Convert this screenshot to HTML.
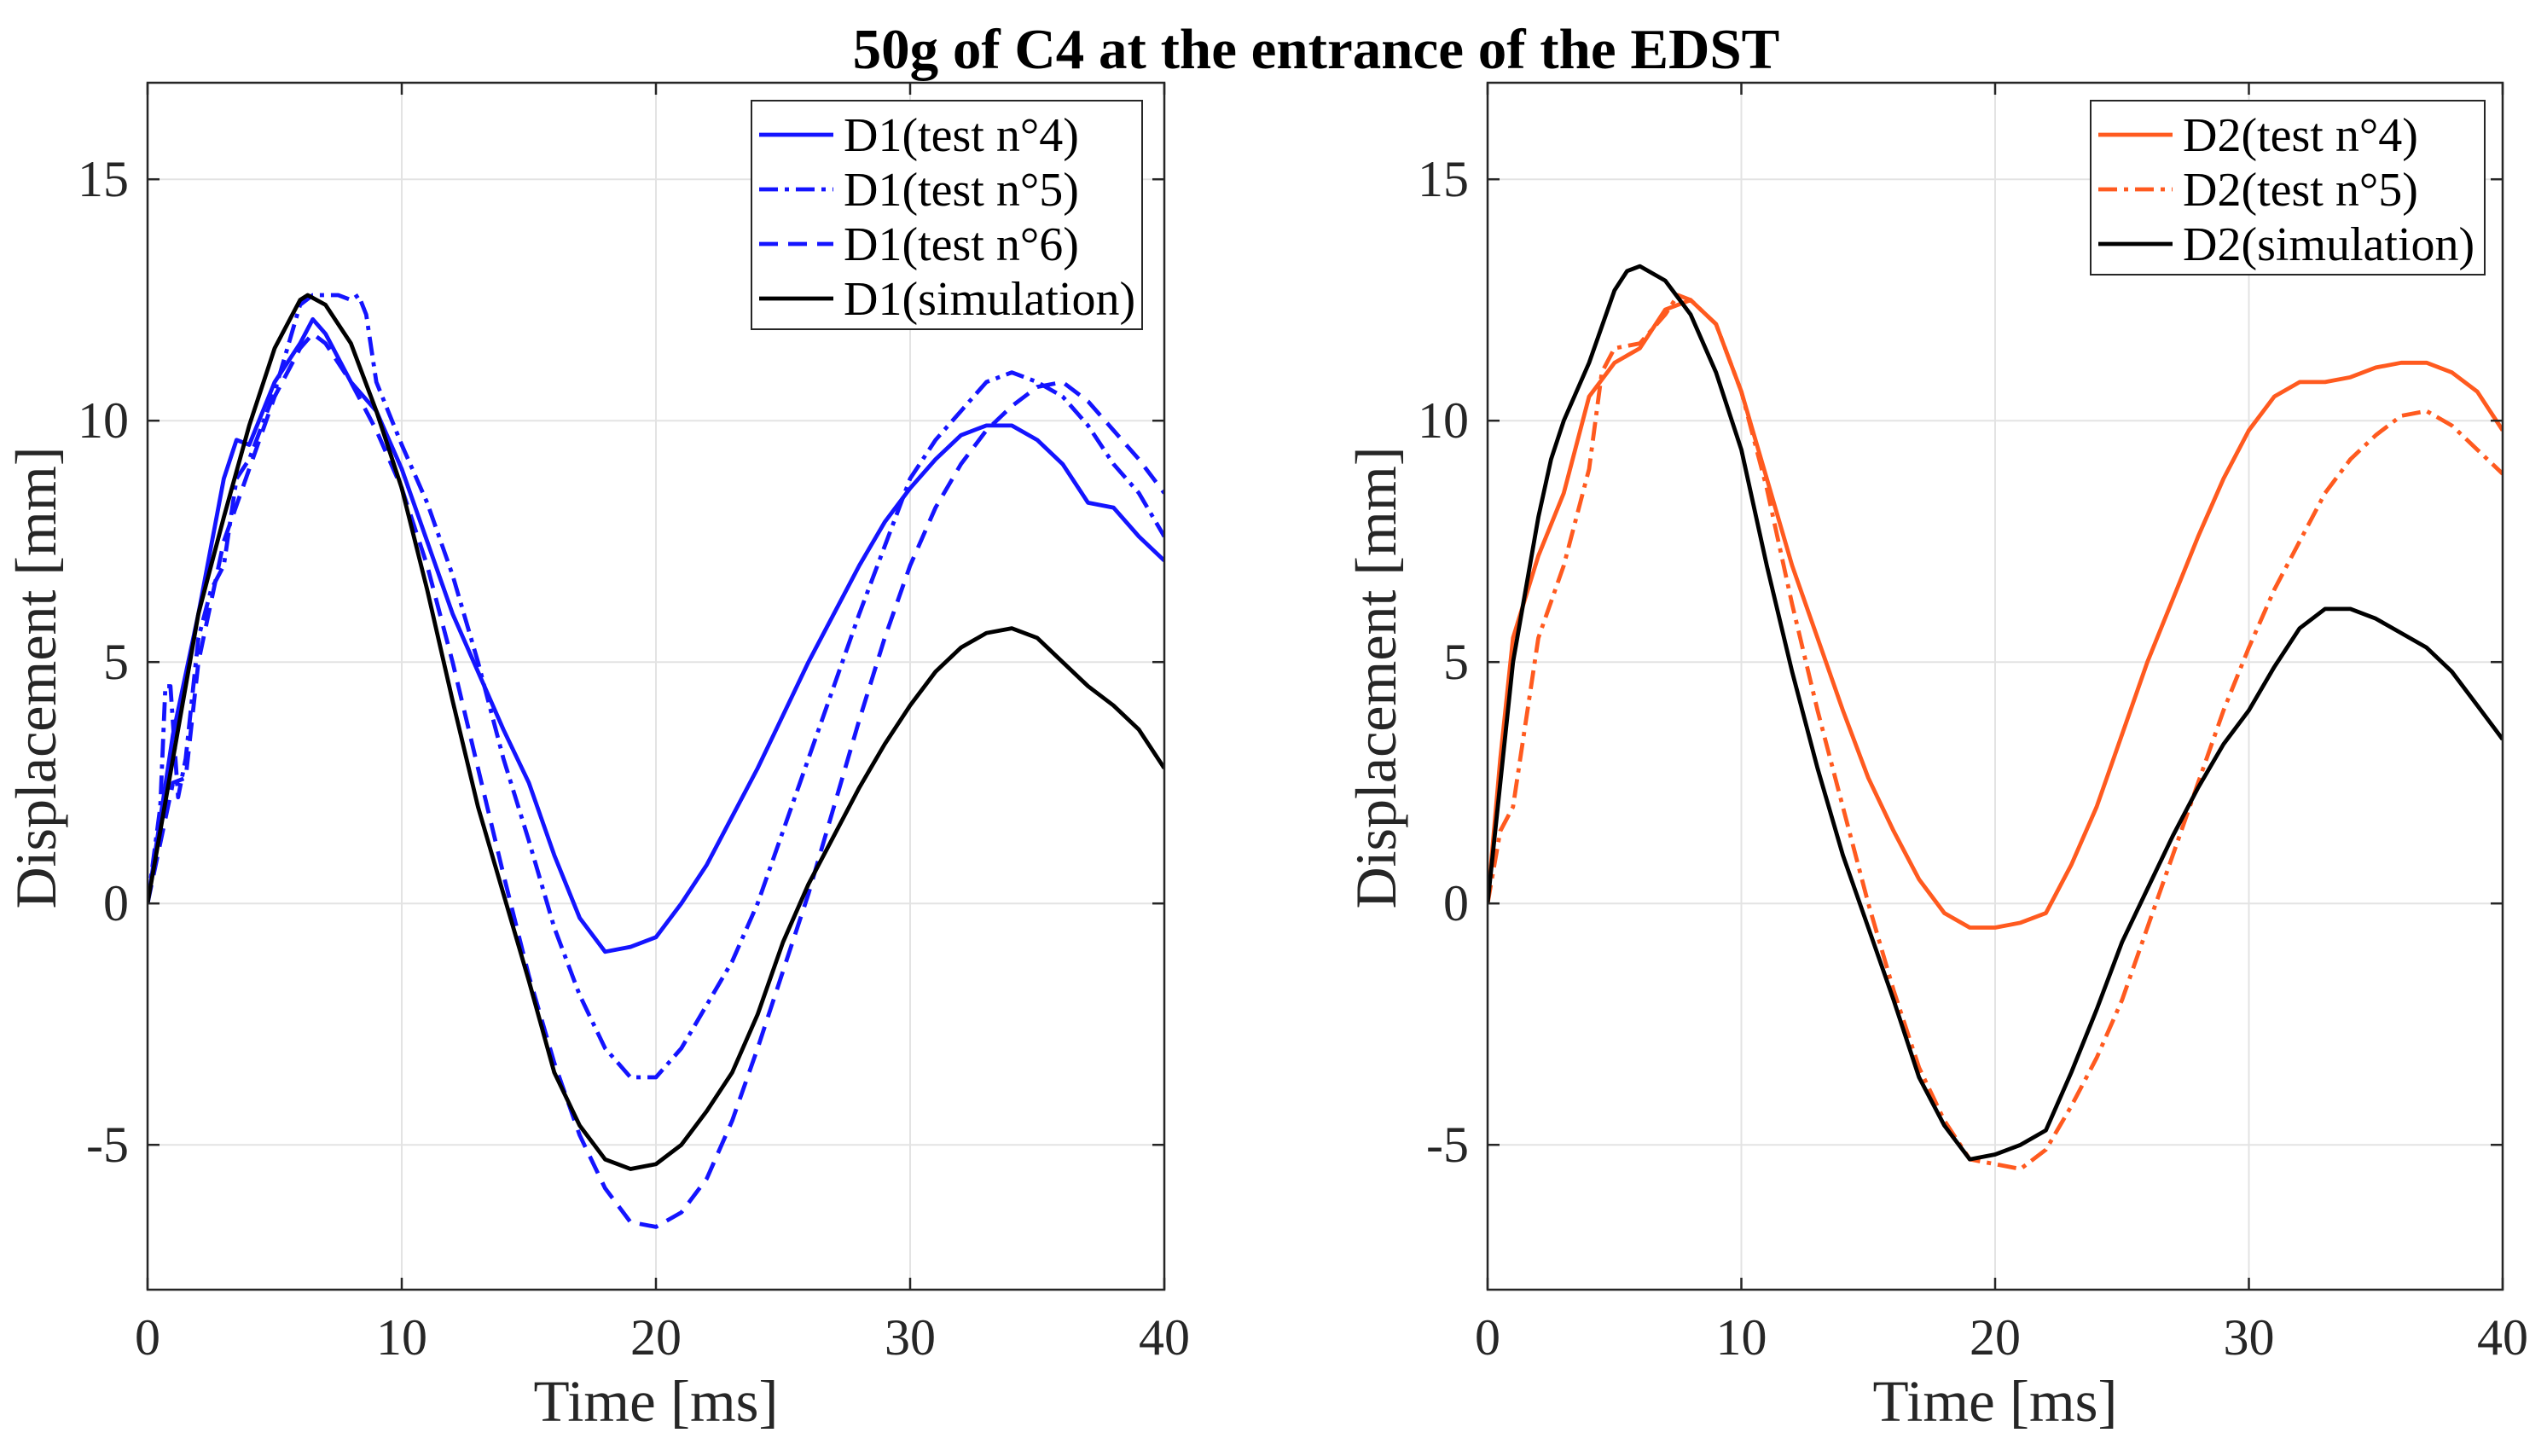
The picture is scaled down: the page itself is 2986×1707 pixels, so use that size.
<!DOCTYPE html>
<html><head><meta charset="utf-8">
<style>
html,body{margin:0;padding:0;background:#fff;}
svg{display:block;font-family:"Liberation Serif",serif;}
</style></head>
<body>
<svg id="fig" width="2986" height="1707" viewBox="0 0 2986 1707" xmlns="http://www.w3.org/2000/svg">
<rect width="2986" height="1707" fill="#fff"/>
<text x="1543" y="80" font-size="67" font-weight="bold" text-anchor="middle">50g of C4 at the entrance of the EDST</text>
</svg>
<script>
const xTicks=[0,10,20,30,40];
const yTicks=[-5,0,5,10,15];
const yTickLabels=["-5","0","5","10","15"];
const t4x=[0,1,2,3,3.5,4,5,6,6.5,7,8,9,10,11,12,13,14,15,16,17,18,19,20,21,22,23,24,25,26,27,28,29,30,31,32,33,34,35,36,37,38,39,40];
const d1t4=[0,3.5,6,8.8,9.6,9.5,10.8,11.6,12.1,11.8,10.8,10.2,9,7.5,6,4.8,3.6,2.5,1,-0.3,-1,-0.9,-0.7,0,0.8,1.8,2.8,3.9,5,6,7,7.9,8.6,9.2,9.7,9.9,9.9,9.6,9.1,8.3,8.2,7.6,7.1];
const t5x=[0,0.5,0.7,0.9,1.2,1.5,2,2.5,3,3.5,4,5,6,6.5,7,7.5,8,8.3,8.6,9,10,11,12,13,14,15,16,17,18,19,20,21,22,23,24,25,26,27,28,29,30,31,32,33,34,35,36,37,38,39,40];
const d1t5=[0,2,4.5,4.5,2.2,3,5.5,6.5,7,8.8,9.2,10.6,12.4,12.6,12.6,12.6,12.5,12.6,12.2,10.8,9.5,8.3,6.8,5,3,1.3,-0.5,-1.9,-3,-3.6,-3.6,-3,-2.1,-1.2,0,1.5,3,4.5,6,7.4,8.8,9.6,10.2,10.8,11,10.8,10.5,9.9,9.1,8.5,7.6];
const t6x=[0,1,1.5,2,3,4,5,6,6.5,7,8,9,10,11,12,13,14,15,16,17,18,19,20,21,22,23,24,25,26,27,28,29,30,31,32,33,34,35,36,37,38,39,40];
const d1t6=[0,2.5,2.6,5,7.5,9,10.5,11.5,11.8,11.6,10.8,9.8,8.6,7,5,2.8,0.6,-1.5,-3.3,-4.8,-5.9,-6.6,-6.7,-6.4,-5.7,-4.5,-3,-1.4,0.2,2,3.8,5.5,7,8.2,9.1,9.8,10.3,10.7,10.8,10.4,9.8,9.2,8.5];
const s1x=[0,1,2,3,4,5,6,6.3,7,8,9,10,11,12,13,14,15,16,17,18,19,20,21,22,23,24,25,26,27,28,29,30,31,32,33,34,35,36,37,38,39,40];
const d1sim=[0,3,6,8,9.9,11.5,12.5,12.6,12.4,11.6,10.2,8.6,6.5,4.2,2,0.2,-1.6,-3.5,-4.6,-5.3,-5.5,-5.4,-5,-4.3,-3.5,-2.3,-0.8,0.4,1.4,2.4,3.3,4.1,4.8,5.3,5.6,5.7,5.5,5,4.5,4.1,3.6,2.8];
const r4x=[0,0.5,1,2,3,4,5,6,7,8,9,10,11,12,13,14,15,16,17,18,19,20,21,22,23,24,25,26,27,28,29,30,31,32,33,34,35,36,37,38,39,40];
const d2t4=[0,3,5.5,7.2,8.5,10.5,11.2,11.5,12.3,12.5,12,10.6,8.8,7,5.5,4,2.6,1.5,0.5,-0.2,-0.5,-0.5,-0.4,-0.2,0.8,2,3.5,5,6.3,7.6,8.8,9.8,10.5,10.8,10.8,10.9,11.1,11.2,11.2,11,10.6,9.8];
const r5x=[0,0.5,1,2,3,4,4.5,5,6,7,7.5,8,9,10,11,12,13,14,15,16,17,18,19,20,21,22,23,24,25,26,27,28,29,30,31,32,33,34,35,36,37,38,39,40];
const d2t5=[0,1.5,2,5.5,7,9,11,11.5,11.6,12.2,12.6,12.5,12,10.6,8.6,6.2,4,2,0,-1.8,-3.4,-4.5,-5.3,-5.4,-5.5,-5.1,-4.2,-3.2,-2,-0.5,1,2.5,4,5.3,6.5,7.5,8.5,9.2,9.7,10.1,10.2,9.9,9.4,8.9];
const rsx=[0,0.5,1,2,2.5,3,4,5,5.5,6,7,8,9,10,11,12,13,14,15,16,17,18,19,20,21,22,23,24,25,26,27,28,29,30,31,32,33,34,35,36,37,38,39,40];
const d2sim=[0,2.5,5,8,9.2,10,11.2,12.7,13.1,13.2,12.9,12.2,11,9.4,7,4.8,2.8,1,-0.5,-2,-3.6,-4.6,-5.3,-5.2,-5,-4.7,-3.5,-2.2,-0.8,0.3,1.4,2.4,3.3,4,4.9,5.7,6.1,6.1,5.9,5.6,5.3,4.8,4.1,3.4];

const NS="http://www.w3.org/2000/svg";
const svg=document.getElementById('fig');
const BLUE="#1414ff", ORANGE="#ff5a1f", BLACK="#000";
const DASHDOT="22 8 5 8", DASHED="22 12";
function mk(tag,attrs,parent){const e=document.createElementNS(NS,tag);for(const k in attrs)e.setAttribute(k,attrs[k]);(parent||svg).appendChild(e);return e;}

function panel(prefix,x0,x1,series,legend){
  const y0=97,y1=1512,xmin=0,xmax=40,ymin=-8,ymax=17;
  const sx=v=>x0+(v-xmin)/(xmax-xmin)*(x1-x0);
  const sy=v=>y1-(v-ymin)/(ymax-ymin)*(y1-y0);
  const g=mk('g',{});
  
  
  xTicks.forEach(v=>{
    const l=mk('line',{x1:sx(v),x2:sx(v),y1:y0,y2:y1,stroke:'#e3e3e3','stroke-width':2},g);
    
    
  });
  yTicks.forEach(v=>{
    const l=mk('line',{x1:x0,x2:x1,y1:sy(v),y2:sy(v),stroke:'#e3e3e3','stroke-width':2},g);
    
    
  });
  const cp=mk('clipPath',{id:prefix+'clip'},g);
  mk('rect',{x:x0,y:y0,width:x1-x0,height:y1-y0},cp);
  series.forEach(s=>{
    const d=s.x.map((v,i)=>(i?'L':'M')+sx(v).toFixed(1)+' '+sy(s.y[i]).toFixed(1)).join(' ');
    const p=mk('path',{d:d,fill:'none',stroke:s.c,'stroke-width':4.8,'stroke-linejoin':'round','clip-path':'url(#'+prefix+'clip)'},g);
    if(s.dash)p.setAttribute('stroke-dasharray',s.dash);
    
    
  });
  const box=mk('rect',{x:x0,y:y0,width:x1-x0,height:y1-y0,fill:'none',stroke:'#262626','stroke-width':2.5},g);
  
  
  xTicks.forEach(v=>{
    mk('line',{x1:sx(v),x2:sx(v),y1:y1,y2:y1-14,stroke:'#262626','stroke-width':2.5},g);
    mk('line',{x1:sx(v),x2:sx(v),y1:y0,y2:y0+14,stroke:'#262626','stroke-width':2.5},g);
    const t=mk('text',{x:sx(v),y:y1+76,'font-size':60,'text-anchor':'middle',fill:'#262626'},g);
    t.textContent=String(v);
    
    
  });
  yTicks.forEach((v,i)=>{
    mk('line',{x1:x0,x2:x0+14,y1:sy(v),y2:sy(v),stroke:'#262626','stroke-width':2.5},g);
    mk('line',{x1:x1,x2:x1-14,y1:sy(v),y2:sy(v),stroke:'#262626','stroke-width':2.5},g);
    const t=mk('text',{x:x0-22,y:sy(v)+20,'font-size':60,'text-anchor':'end',fill:'#262626'},g);
    t.textContent=yTickLabels[i];
    
    
  });
  const xl=mk('text',{x:(x0+x1)/2,y:1666,'font-size':69,'text-anchor':'middle',fill:'#262626'},g);
  xl.textContent='Time [ms]';
  
  
  const yl=mk('text',{x:0,y:0,'font-size':68,'text-anchor':'middle',fill:'#262626',transform:'translate('+(x0-108)+','+((y0+y1)/2-10)+') rotate(-90)'},g);
  yl.textContent='Displacement [mm]';
  
  
  const lg=mk('g',{},g);
  
  
  const rowH=64;
  mk('rect',{x:legend.x,y:legend.y,width:legend.w,height:rowH*series.length+12,fill:'#fff',stroke:'#262626','stroke-width':2},lg);
  series.forEach((s,i)=>{
    const cy=legend.y+40+i*rowH;
    const ent=mk('g',{},lg);
    
    
    const ln=mk('line',{x1:legend.x+9,x2:legend.x+96,y1:cy,y2:cy,stroke:s.c,'stroke-width':4.8},ent);
    if(s.dash)ln.setAttribute('stroke-dasharray',s.dash);
    const t=mk('text',{x:legend.x+108,y:cy+19,'font-size':56,fill:'#000'},ent);
    t.textContent=s.label;
  });
}

panel('left',173,1365,[
  {x:t4x,y:d1t4,c:BLUE,dash:null,name:'d1-test4-line',label:'D1(test n°4)'},
  {x:t5x,y:d1t5,c:BLUE,dash:DASHDOT,name:'d1-test5-line',label:'D1(test n°5)'},
  {x:t6x,y:d1t6,c:BLUE,dash:DASHED,name:'d1-test6-line',label:'D1(test n°6)'},
  {x:s1x,y:d1sim,c:BLACK,dash:null,name:'d1-simulation-line',label:'D1(simulation)'}
],{x:881,y:118,w:458});

panel('right',1744,2934,[
  {x:r4x,y:d2t4,c:ORANGE,dash:null,name:'d2-test4-line',label:'D2(test n°4)'},
  {x:r5x,y:d2t5,c:ORANGE,dash:DASHDOT,name:'d2-test5-line',label:'D2(test n°5)'},
  {x:rsx,y:d2sim,c:BLACK,dash:null,name:'d2-simulation-line',label:'D2(simulation)'}
],{x:2451,y:118,w:462});
</script>
</body></html>
